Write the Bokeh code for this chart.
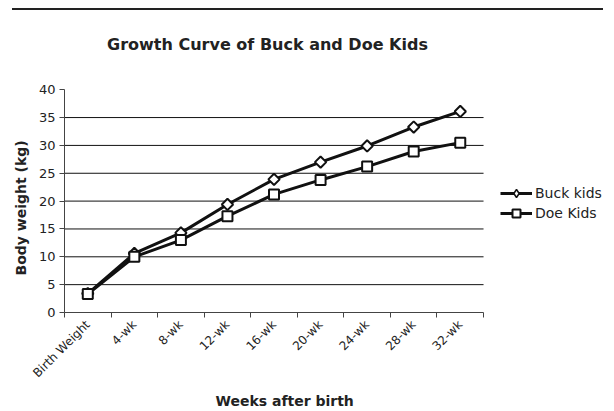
import math
from bokeh.plotting import figure
from bokeh.layouts import column
from bokeh.models import (FixedTicker, Label, Legend, LegendItem, Range1d,
                          Title, Div, ColumnDataSource)
from bokeh.embed import file_html
from bokeh.resources import INLINE

categories = ["Birth Weight", "4-wk", "8-wk", "12-wk", "16-wk",
              "20-wk", "24-wk", "28-wk", "32-wk"]
buck_kids = [3.4, 10.6, 14.3, 19.4, 23.9, 27.0, 29.9, 33.3, 36.1]
doe_kids = [3.3, 10.0, 13.0, 17.3, 21.2, 23.8, 26.2, 28.9, 30.5]
y_ticks = [0, 5, 10, 15, 20, 25, 30, 35, 40]

FONT = "DejaVu Sans"
TXT = "#222222"
INK = "#111111"
n = len(categories)
xs = [i + 0.5 for i in range(n)]

# layout geometry (pixels); the page itself has no margin
TOP_GAP = 10                 # rule at y=8..10, figure below it
FIG_W, FIG_H = 614, 411 - TOP_GAP
LEFT, BOTTOM = 64, 96
frame_w = FIG_W - LEFT
frame_h = FIG_H - BOTTOM
px_per_cat = 46.56
px_per_unit = 5.625

p = figure(width=FIG_W, height=FIG_H, output_backend="svg",
           toolbar_location=None,
           x_range=Range1d(0, frame_w / px_per_cat),
           y_range=Range1d(0, frame_h / px_per_unit),
           min_border_left=LEFT, min_border_right=0,
           min_border_top=0, min_border_bottom=BOTTOM)
p.outline_line_color = None
p.background_fill_color = "white"
p.xgrid.visible = False
p.ygrid.visible = False
# a range that keeps legend-only symbols out of view
p.extra_y_ranges = {"legend_only": Range1d(1000, 1001)}

# axes
p.xaxis.bounds = (0, n)
p.xaxis.ticker = FixedTicker(ticks=xs, minor_ticks=list(range(n + 1)))
p.xaxis.major_label_overrides = {x: c for x, c in zip(xs, categories)}
p.xaxis.major_tick_out = 0
p.xaxis.major_tick_in = 0
p.xaxis.minor_tick_out = 5
p.xaxis.minor_tick_in = 0
p.xaxis.minor_tick_line_color = "#444444"
p.xaxis.major_label_orientation = math.pi / 4
p.xaxis.major_label_text_font = FONT
p.xaxis.major_label_text_font_size = "12px"
p.xaxis.major_label_text_color = TXT
p.xaxis.major_label_standoff = 5
p.xaxis.axis_line_color = "#444444"

p.yaxis.bounds = (y_ticks[0], y_ticks[-1])
p.yaxis.ticker = FixedTicker(ticks=y_ticks, minor_ticks=[])
p.yaxis.major_tick_out = 5
p.yaxis.major_tick_in = 0
p.yaxis.major_tick_line_color = "#444444"
p.yaxis.axis_line_color = "#444444"
p.yaxis.major_label_text_font = FONT
p.yaxis.major_label_text_font_size = "13px"
p.yaxis.major_label_text_color = TXT
p.yaxis.major_label_standoff = 4

# horizontal gridlines, limited to the category span
g = y_ticks[1:-1]
p.segment(x0=[0] * len(g), x1=[n] * len(g), y0=g, y1=g,
          line_color=INK, line_width=1)

# series
buck_src = ColumnDataSource(dict(x=xs, y=buck_kids))
doe_src = ColumnDataSource(dict(x=xs, y=doe_kids))
l1 = p.line("x", "y", source=buck_src, line_color=INK, line_width=3)
m1 = p.scatter("x", "y", source=buck_src, marker="square", angle=math.pi / 4,
               size=8, fill_color="white", line_color=INK, line_width=2)
l2 = p.line("x", "y", source=doe_src, line_color=INK, line_width=3)
m2 = p.scatter("x", "y", source=doe_src, marker="square", size=10,
               fill_color="white", line_color=INK, line_width=2)
# diamond symbol for the legend (its points fall outside the visible range)
k1 = p.scatter("x", "y", source=buck_src, y_range_name="legend_only",
               marker="diamond", size=10, fill_color="white",
               line_color=INK, line_width=1.5)

legend = Legend(items=[LegendItem(label="Buck kids", renderers=[l1, k1]),
                       LegendItem(label="Doe Kids", renderers=[l2, m2])],
                location=(436, 89), border_line_color=None,
                background_fill_alpha=0, label_text_font=FONT,
                label_text_font_size="14px", glyph_width=32, glyph_height=20,
                spacing=0, padding=0, margin=0, label_standoff=3,
                label_text_color=TXT)
p.add_layout(legend, "center")

# chart title (inside the frame area, above the plotted range)
p.add_layout(Label(x=267 - LEFT, y=frame_h + TOP_GAP - 47, x_units="screen",
                   y_units="screen",
                   text="Growth Curve of Buck and Doe Kids", text_font=FONT,
                   text_font_size="16px", text_font_style="bold",
                   text_align="center", text_baseline="alphabetic",
                   text_color=TXT))

# axis titles
p.add_layout(Title(text="Weeks after birth", align="left",
                   offset=215 - LEFT, standoff=5,
                   text_font=FONT, text_font_size="14px",
                   text_font_style="bold", text_color=TXT), "below")
p.add_layout(Title(text="Body weight (kg)", align="left",
                   offset=(TOP_GAP + frame_h) - 278, standoff=14,
                   text_font=FONT, text_font_size="14px",
                   text_font_style="bold", text_color=TXT), "left")

top_rule = Div(width=591, height=2, margin=(8, 0, 0, 12),
               styles={"background-color": "#222222"})

layout = column(top_rule, p, spacing=0)
open("out.html", "w").write(file_html(layout, INLINE))
